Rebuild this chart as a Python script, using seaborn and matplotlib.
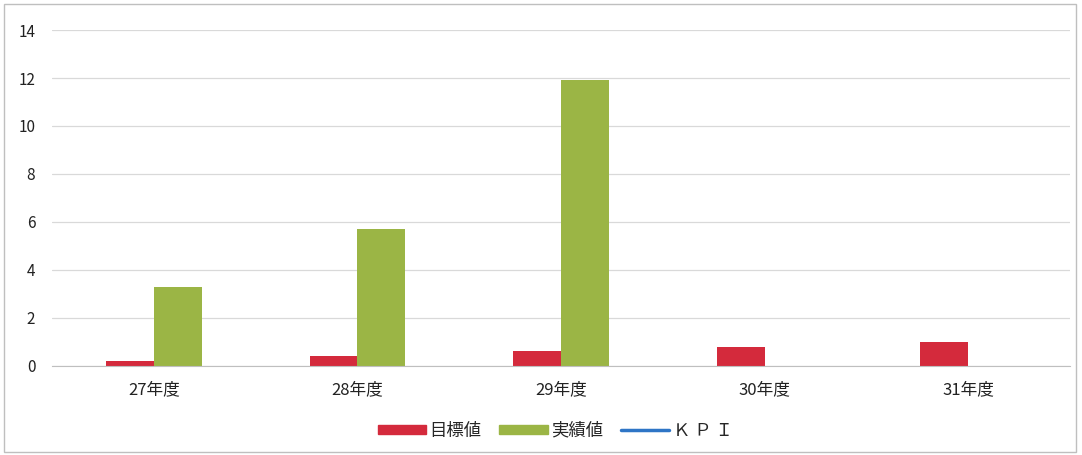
import numpy as np
import pandas as pd
import matplotlib
matplotlib.use('Agg')
import matplotlib.pyplot as plt
import seaborn as sns
from matplotlib.lines import Line2D
from matplotlib.patches import Patch, Rectangle

years = ['27年度', '28年度', '29年度', '30年度', '31年度']
target = [0.2, 0.4, 0.6, 0.8, 1.0]
actual = [3.3, 5.7, 11.9, np.nan, np.nan]
series = ['目標値', '実績値']
colors = ['#d42a3c', '#9bb545']

df = pd.DataFrame({
    'year': years * 2,
    'value': target + actual,
    'series': [series[0]] * len(years) + [series[1]] * len(years),
})

sns.set_style('white')
plt.rcParams['font.family'] = ['Noto Sans CJK JP', 'DejaVu Sans']

fig = plt.figure(figsize=(10.82, 4.55), dpi=100)
ax = fig.add_axes([0.048, 0.196, 0.941, 0.738])

sns.barplot(data=df, x='year', y='value', hue='series', hue_order=series,
            palette=colors, width=0.47, saturation=1, ax=ax, legend=False,
            edgecolor='none')

ax.set_ylim(0, 14)
ax.set_yticks(range(0, 15, 2))
ax.set_xlim(-0.5, 4.5)
ax.set_xlabel('')
ax.set_ylabel('')
ax.grid(axis='y', color='#d9d9d9', linewidth=0.9)
ax.set_axisbelow(True)
for s in ['top', 'right', 'left']:
    ax.spines[s].set_visible(False)
ax.spines['bottom'].set_color('#bfbfbf')
ax.tick_params(axis='x', length=0, labelsize=12, colors='#222222', pad=11)
ax.tick_params(axis='y', length=0, labelsize=11, colors='#222222', pad=12)

handles = [Patch(color=colors[0]), Patch(color=colors[1]),
           Line2D([0], [0], color='#2e75c6', linewidth=2.5)]
fig.legend(handles, series + ['Ｋ Ｐ Ｉ'], loc='center', bbox_to_anchor=(0.513, 0.053),
           ncol=3, frameon=False, fontsize=12.5, handlelength=2.8, handleheight=0.45,
           columnspacing=1.0, handletextpad=0.2)

fig.patches.append(Rectangle((0.004, 0.006), 0.99, 0.985, transform=fig.transFigure,
                             fill=False, edgecolor='#bfbfbf', linewidth=1))

fig.savefig('out.png', dpi=100)
